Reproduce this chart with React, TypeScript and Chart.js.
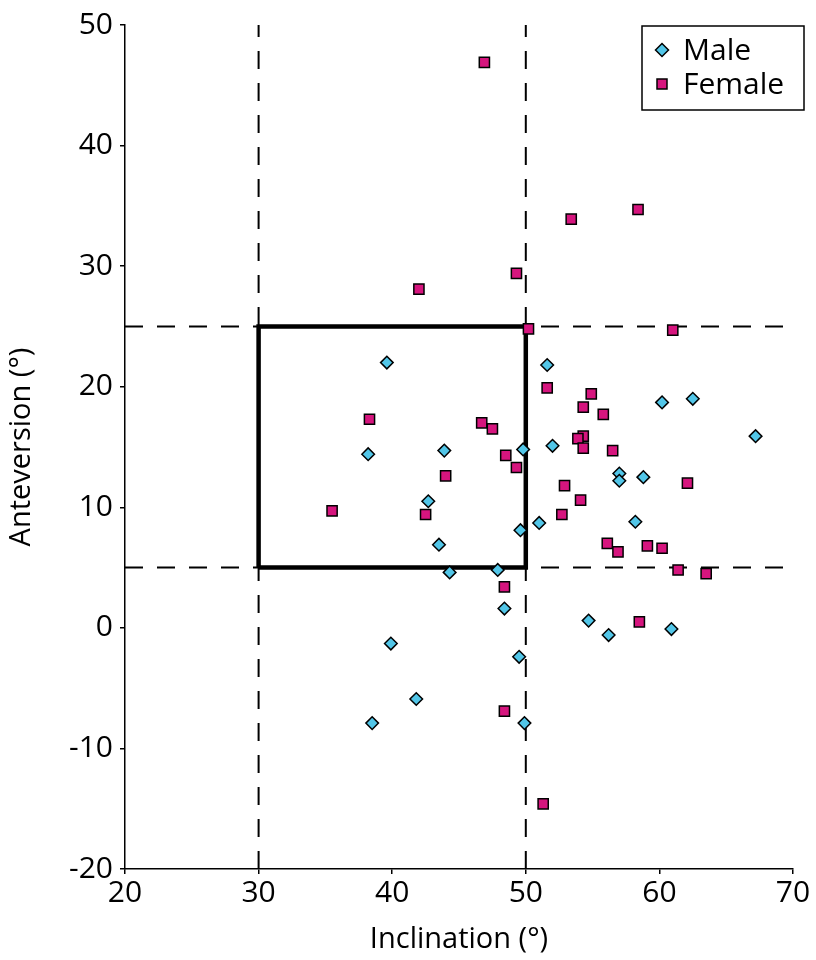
import React, { useEffect, useRef } from "react";
import { Chart, registerables } from "chart.js";

Chart.register(...registerables);

// Axis ranges and ticks
const xRange = [20, 70];
const yRange = [-20, 50];
const tickStep = 10;

// Reference ("safe zone") bounds
const inclinationBounds = [30, 50];
const anteversionBounds = [5, 25];

// Male series
const maleInclination = [39.6, 51.6, 38.2, 43.9, 49.8, 52.0, 42.7, 51.0, 49.6, 43.5, 44.3, 47.9, 48.4, 39.9, 49.5, 54.7, 56.2, 60.9, 41.8, 38.5, 49.9, 60.2, 62.5, 67.2, 57.0, 57.0, 58.8, 58.2];
const maleAnteversion = [22.0, 21.8, 14.4, 14.7, 14.8, 15.1, 10.5, 8.7, 8.1, 6.9, 4.6, 4.8, 1.6, -1.3, -2.4, 0.6, -0.6, -0.1, -5.9, -7.9, -7.9, 18.7, 19.0, 15.9, 12.8, 12.2, 12.5, 8.8];

// Female series
const femaleInclination = [46.9, 53.4, 58.4, 49.3, 42.0, 50.2, 61.0, 51.6, 54.9, 54.3, 55.8, 38.3, 46.7, 47.5, 54.3, 53.9, 54.3, 56.5, 48.5, 49.3, 44.0, 62.1, 52.9, 54.1, 35.5, 42.5, 52.7, 56.1, 56.9, 59.1, 60.2, 61.4, 63.5, 48.4, 58.5, 48.4, 51.3];
const femaleAnteversion = [46.9, 33.9, 34.7, 29.4, 28.1, 24.8, 24.7, 19.9, 19.4, 18.3, 17.7, 17.3, 17.0, 16.5, 15.9, 15.7, 14.9, 14.7, 14.3, 13.3, 12.6, 12.0, 11.8, 10.6, 9.7, 9.4, 9.4, 7.0, 6.3, 6.8, 6.6, 4.8, 4.5, 3.4, 0.5, -6.9, -14.6];

const seriesLabels = ["Male", "Female"];
const xTitle = "Inclination (°)";
const yTitle = "Anteversion (°)";

const MALE_COLOR = "#52C6E8";
const FEMALE_COLOR = "#D6157E";
const FONT = "'Open Sans', sans-serif";

const toPoints = (xs: number[], ys: number[]) => xs.map((x, i) => ({ x, y: ys[i] }));

const legendPlugin = {
  id: "boxLegend",
  afterDraw(chart: any) {
    const ctx = chart.ctx;
    const left = 642, top = 26, w = 162, h = 84;
    ctx.save();
    ctx.fillStyle = "#fff";
    ctx.fillRect(left, top, w, h);
    ctx.strokeStyle = "#000";
    ctx.lineWidth = 1.5;
    ctx.strokeRect(left, top, w, h);
    const items = [
      { label: seriesLabels[0], style: "diamond", color: MALE_COLOR },
      { label: seriesLabels[1], style: "square", color: FEMALE_COLOR },
    ];
    items.forEach((it, i) => {
      const cx = left + 20;
      const cy = top + 24 + i * 34;
      ctx.beginPath();
      if (it.style === "diamond") {
        const r = 6.5;
        ctx.moveTo(cx - r, cy);
        ctx.lineTo(cx, cy - r);
        ctx.lineTo(cx + r, cy);
        ctx.lineTo(cx, cy + r);
        ctx.closePath();
      } else {
        const s = 5;
        ctx.rect(cx - s, cy - s, 2 * s, 2 * s);
      }
      ctx.fillStyle = it.color;
      ctx.fill();
      ctx.lineWidth = 1.5;
      ctx.strokeStyle = "#000";
      ctx.stroke();
      ctx.fillStyle = "#000";
      ctx.font = `30px ${FONT}`;
      ctx.textBaseline = "middle";
      ctx.textAlign = "left";
      ctx.fillText(it.label, left + 41, cy + 1);
    });
    ctx.restore();
  },
};

export default function App() {
  const ref = useRef<HTMLCanvasElement | null>(null);
  useEffect(() => {
    if (!ref.current) return;
    const [ix0, ix1] = inclinationBounds;
    const [ay0, ay1] = anteversionBounds;
    const chart = new Chart(ref.current, {
      type: "scatter",
      data: {
        datasets: [
          {
            label: seriesLabels[1],
            data: toPoints(femaleInclination, femaleAnteversion),
            pointStyle: "rect",
            pointRadius: 7.2,
            backgroundColor: FEMALE_COLOR,
            borderColor: "#000",
            borderWidth: 1.5,
            order: 0,
          },
          {
            label: seriesLabels[0],
            data: toPoints(maleInclination, maleAnteversion),
            pointStyle: "rectRot",
            pointRadius: 6.3,
            backgroundColor: MALE_COLOR,
            borderColor: "#000",
            borderWidth: 1.5,
            order: 1,
          },
          {
            label: "box",
            data: [
              { x: ix0, y: ay0 },
              { x: ix0, y: ay1 },
              { x: ix1, y: ay1 },
              { x: ix1, y: ay0 },
              { x: ix0, y: ay0 },
            ],
            showLine: true,
            pointRadius: 0,
            borderColor: "#000",
            borderWidth: 4.5,
            borderJoinStyle: "miter",
            order: 2,
          } as any,
          ...[ix0, ix1].map((x) => ({
            label: "v" + x,
            data: [
              { x, y: yRange[0] },
              { x, y: yRange[1] },
            ],
            showLine: true,
            pointRadius: 0,
            borderColor: "#000",
            borderWidth: 2,
            borderDash: [18, 14],
            order: 3,
          })),
          ...[ay0, ay1].map((y) => ({
            label: "h" + y,
            data: [
              { x: xRange[0], y },
              { x: xRange[1], y },
            ],
            showLine: true,
            pointRadius: 0,
            borderColor: "#000",
            borderWidth: 2,
            borderDash: [18, 14],
            order: 3,
          })),
        ],
      },
      options: {
        animation: false,
        responsive: false,
        layout: { padding: { left: 0, right: 23, top: 22, bottom: 0 } },
        plugins: { legend: { display: false }, tooltip: { enabled: false } },
        scales: {
          x: {
            type: "linear",
            min: xRange[0],
            max: xRange[1],
            ticks: { stepSize: tickStep, color: "#000", font: { family: FONT, size: 30 }, padding: 1 },
            grid: { drawOnChartArea: false, tickLength: 5, color: "#000", lineWidth: 1.5 },
            border: { color: "#000", width: 1.5 },
            title: { display: true, text: xTitle, color: "#000", font: { family: FONT, size: 29 }, padding: { top: 0, bottom: 3 } },
            afterFit: (s: any) => { s.height = 91; },
          },
          y: {
            type: "linear",
            min: yRange[0],
            max: yRange[1],
            ticks: { stepSize: tickStep, color: "#000", font: { family: FONT, size: 30 }, padding: 7 },
            grid: { drawOnChartArea: false, tickLength: 5, color: "#000", lineWidth: 1.5 },
            border: { color: "#000", width: 1.5 },
            title: { display: true, text: yTitle, color: "#000", font: { family: FONT, size: 29 }, padding: { top: 4, bottom: 0 } },
            afterFit: (s: any) => { s.width = 125; },
          },
        },
      },
      plugins: [legendPlugin],
    });
    return () => chart.destroy();
  }, []);
  return (
    <canvas
      ref={ref}
      width={816}
      height={960}
      style={{ position: "fixed", left: 0, top: 0, width: 816, height: 960, display: "block", background: "#fff" }}
    />
  );
}
